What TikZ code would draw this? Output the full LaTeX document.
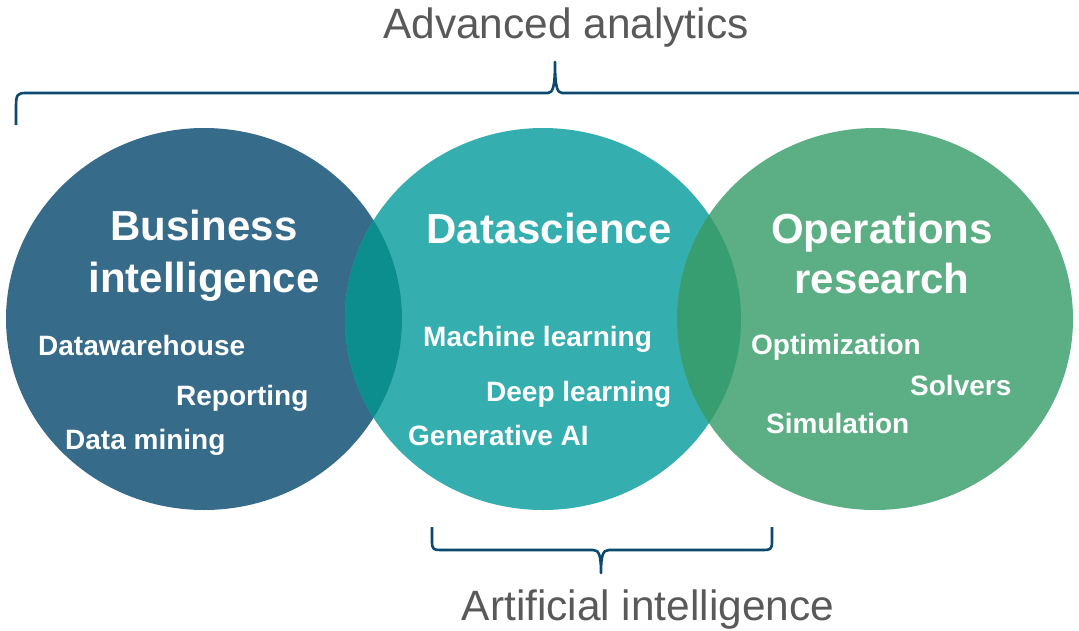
\documentclass[tikz,border=0pt]{standalone}
\usepackage{fontspec}
\setmainfont{Liberation Sans}
\definecolor{biC}{HTML}{366B8A}
\definecolor{dsC}{HTML}{35AEAF}
\definecolor{orC}{HTML}{5CAE85}
\definecolor{ovA}{HTML}{0C8E8F}
\definecolor{ovB}{HTML}{379E72}
\definecolor{braceC}{HTML}{0B4A6E}
\definecolor{labelC}{HTML}{595959}
\tikzset{
  circtitle/.style={text=white,font=\fontsize{42}{50}\selectfont\bfseries,anchor=base,inner sep=0pt},
  item/.style={text=white,font=\fontsize{28}{32}\selectfont\bfseries,anchor=base west,inner sep=0pt},
  bigLabel/.style={text=labelC,font=\fontsize{42.4}{50}\selectfont,anchor=base,inner sep=0pt},
  bracepath/.style={draw=braceC,line width=2.6pt,line join=round,line cap=butt}
}
\begin{document}
\begin{tikzpicture}[x=1pt,y=-1pt]
\useasboundingbox (0,0) rectangle (1079,630);
% circles
\fill[biC] (204,319) ellipse [x radius=198pt, y radius=191pt];
\fill[dsC] (543,319) ellipse [x radius=198pt, y radius=191pt];
\fill[orC] (875,319) ellipse [x radius=198pt, y radius=191pt];
\begin{scope}
  \clip (204,319) ellipse [x radius=198pt, y radius=191pt];
  \fill[ovA] (543,319) ellipse [x radius=198pt, y radius=191pt];
\end{scope}
\begin{scope}
  \clip (875,319) ellipse [x radius=198pt, y radius=191pt];
  \fill[ovB] (543,319) ellipse [x radius=198pt, y radius=191pt];
\end{scope}
% titles
\node[circtitle] (bi1) at (204,240) {Business};
\node[circtitle] (bi2) at (204,292) {intelligence};
\node[circtitle] (ds1) at (549,243) {Datascience};
\node[circtitle] (or1) at (882,243) {Operations};
\node[circtitle] (or2) at (882,293) {research};
% items
\node[item] (dw) at (38,355) {Datawarehouse};
\node[item] (rep) at (176,405) {Reporting};
\node[item] (dm) at (65,449) {Data mining};
\node[item] (ml) at (423,346) {Machine learning};
\node[item] (dl) at (486,401) {Deep learning};
\node[item] (gai) at (408,445) {Generative AI};
\node[item] (opt) at (751,354) {Optimization};
\node[item] (sol) at (910,395) {Solvers};
\node[item] (sim) at (766,433) {Simulation};
% top brace
\draw[bracepath] (16,125) -- (16,106) .. controls (16,94) and (18,93) .. (26,93) -- (548,93)
  .. controls (553,93) and (555,86) .. (555,62)
  .. controls (555,86) and (557,93) .. (562,93) -- (1085,93);
\node[bigLabel] (aa) at (566,38) {Advanced analytics};
% bottom brace
\draw[bracepath] (432,527) -- (432,542) .. controls (432,549) and (434,550) .. (440,550) -- (593,550)
  .. controls (599,550) and (601,555) .. (601,573)
  .. controls (601,555) and (603,550) .. (609,550) -- (764,550)
  .. controls (770,550) and (772,549) .. (772,542) -- (772,527);
\node[bigLabel] (ai) at (648,620) {Artificial intelligence};
\end{tikzpicture}
\end{document}
